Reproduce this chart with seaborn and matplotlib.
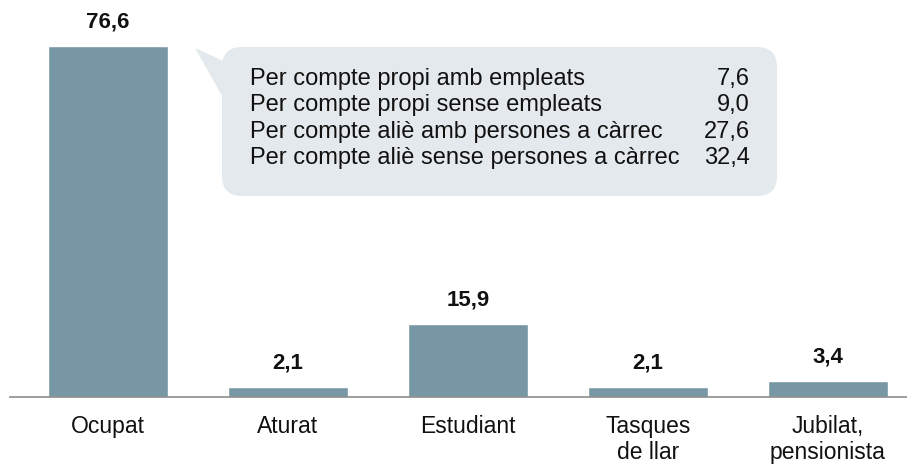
import matplotlib
matplotlib.use("Agg")
import matplotlib.pyplot as plt
import seaborn as sns
import pandas as pd
from matplotlib.patches import FancyBboxPatch, Polygon

categories = ["Ocupat", "Aturat", "Estudiant", "Tasques\nde llar", "Jubilat,\npensionista"]
values = [76.6, 2.1, 15.9, 2.1, 3.4]
value_labels = ["76,6", "2,1", "15,9", "2,1", "3,4"]

callout_items = ["Per compte propi amb empleats",
                 "Per compte propi sense empleats",
                 "Per compte aliè amb persones a càrrec",
                 "Per compte aliè sense persones a càrrec"]
callout_values = ["7,6", "9,0", "27,6", "32,4"]

sns.set_theme(style="white")
plt.rcParams['font.family'] = ['Liberation Sans', 'DejaVu Sans']

BAR = "#7897a4"
BUBBLE = "#e3e9ec"

fig = plt.figure(figsize=(9.07, 4.65), dpi=100)
ax = fig.add_axes([0, (465 - 397) / 465, 1, 397 / 465])

df = pd.DataFrame({"cat": categories, "val": values})
sns.barplot(data=df, x="cat", y="val", color=BAR, saturation=1, width=0.667, ax=ax)

ax.set_xlim(-0.6, 4.439)
ax.set_ylim(0, 86.7)
for s in ["top", "right", "left"]:
    ax.spines[s].set_visible(False)
ax.spines["bottom"].set_color("#8c8c8c")
ax.spines["bottom"].set_linewidth(1.2)
ax.spines["bottom"].set_bounds(-0.545, 4.439)
ax.set_yticks([])
ax.set_xlabel("")
ax.set_ylabel("")
ax.tick_params(axis="x", length=0, pad=13, labelsize=16.5, labelcolor="#111111")
for lab in ax.get_xticklabels():
    lab.set_linespacing(1.15)

for i, (v, lab) in enumerate(zip(values, value_labels)):
    ax.annotate(lab, (i, v), xytext=(0, 10), textcoords="offset points",
                ha="center", va="bottom", fontsize=16, fontweight="bold", color="#111111")

# overlay for callout (pixel coordinates)
ov = fig.add_axes([0, 0, 1, 1], facecolor="none")
ov.set_xlim(0, 907)
ov.set_ylim(465, 0)
ov.axis("off")
box = FancyBboxPatch((222 + 20, 47 + 20), 555 - 40, 149 - 40,
                     boxstyle="round,pad=20", fc=BUBBLE, ec="none")
ov.add_patch(box)
ov.add_patch(Polygon([(195, 48), (230, 64), (230, 110)], closed=True, fc=BUBBLE, ec="none"))
ys = [79, 105, 132, 158]
for y, t, v in zip(ys, callout_items, callout_values):
    ov.text(250, y, t, ha="left", va="center", fontsize=17, color="#111111")
    ov.text(750, y, v, ha="right", va="center", fontsize=17, color="#111111")

fig.savefig("out.png", dpi=100)
